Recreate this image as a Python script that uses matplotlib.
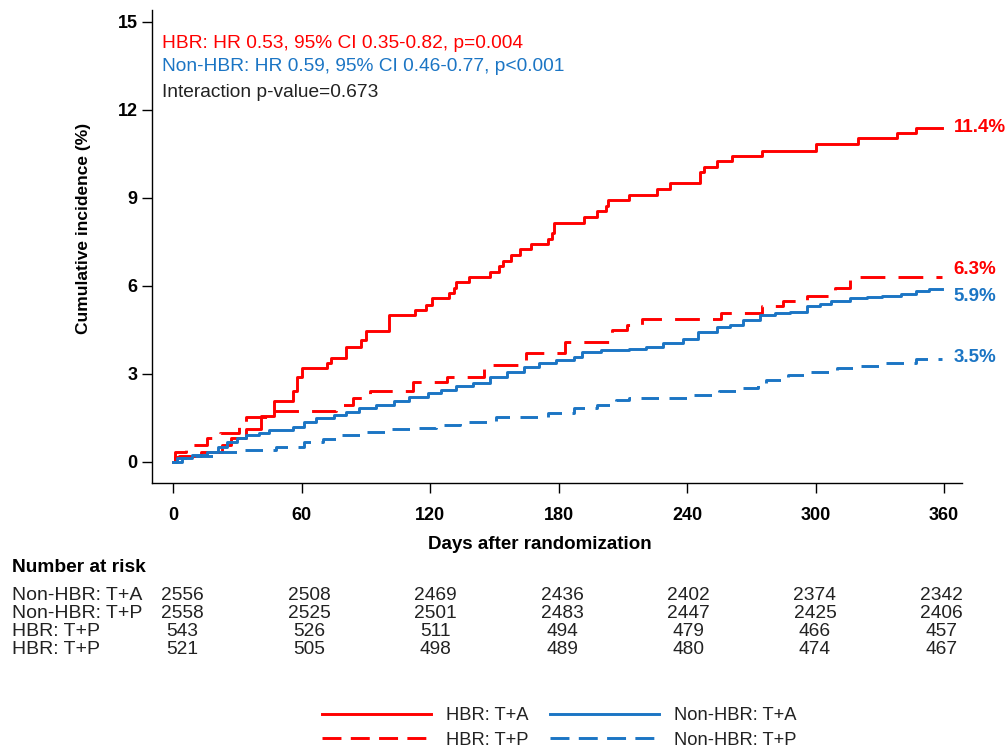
import matplotlib
matplotlib.use('Agg')
import matplotlib.pyplot as plt
from matplotlib.lines import Line2D
import numpy as np

plt.rcParams['font.family'] = ['Liberation Sans', 'DejaVu Sans']

RED = '#FF0000'
BLUE = '#1B75C4'
INK = '#222222'

# Kaplan-Meier style cumulative incidence (%), step changes by day
hbr_ta_days = [0, 1, 3, 13, 23, 27, 34, 41, 47, 56, 58, 60, 72, 74, 81, 88, 90, 101, 113, 118,
               121, 129, 131, 132, 138, 148, 152, 154, 158, 162, 167, 175, 177, 178, 192, 198,
               202, 203, 213, 226, 232, 246, 248, 254, 261, 275, 300, 320, 338, 347, 359]
hbr_ta_inc = [0, 0.18, 0.2, 0.35, 0.58, 0.81, 1.12, 1.55, 2.06, 2.4, 2.9, 3.2, 3.37, 3.55, 3.9,
              4.16, 4.47, 5.0, 5.18, 5.35, 5.6, 5.76, 5.93, 6.14, 6.31, 6.48, 6.68, 6.85, 7.06,
              7.26, 7.43, 7.6, 7.8, 8.16, 8.36, 8.56, 8.73, 8.93, 9.1, 9.3, 9.5, 9.9, 10.07,
              10.26, 10.43, 10.6, 10.83, 11.04, 11.23, 11.4, 11.4]

hbr_tp_days = [0, 1, 6, 16, 22, 31, 34, 45, 76, 84, 92, 112, 128, 145, 165, 183, 205, 212, 219,
               256, 275, 285, 296, 309, 316, 359]
hbr_tp_inc = [0, 0.35, 0.58, 0.81, 0.98, 1.34, 1.54, 1.75, 1.94, 2.17, 2.4, 2.72, 2.91, 3.3,
              3.7, 4.1, 4.5, 4.67, 4.87, 5.07, 5.3, 5.47, 5.66, 5.93, 6.3, 6.3]

nonhbr_ta_days = [0, 4, 9, 16, 21, 25, 30, 34, 40, 45, 56, 61, 67, 75, 81, 87, 95, 103, 110, 119,
                  125, 132, 140, 148, 156, 164, 171, 179, 187, 191, 200, 213, 221, 229, 238, 245,
                  254, 260, 266, 274, 281, 288, 296, 302, 307, 316, 324, 331, 340, 347, 353, 359]
nonhbr_ta_inc = [0, 0.12, 0.24, 0.35, 0.5, 0.69, 0.8, 0.92, 1.0, 1.09, 1.2, 1.37, 1.48, 1.6,
                 1.7, 1.83, 1.95, 2.06, 2.2, 2.34, 2.45, 2.57, 2.69, 2.9, 3.08, 3.22, 3.37, 3.48,
                 3.59, 3.75, 3.8, 3.85, 3.93, 4.05, 4.2, 4.44, 4.61, 4.67, 4.84, 5.0, 5.06, 5.12,
                 5.3, 5.38, 5.47, 5.59, 5.62, 5.64, 5.74, 5.83, 5.88, 5.9]

nonhbr_tp_days = [0, 2, 9, 20, 32, 48, 61, 70, 78, 90, 101, 112, 123, 134, 151, 175, 187, 198,
                  207, 213, 243, 255, 266, 273, 277, 287, 296, 310, 319, 332, 347, 359]
nonhbr_tp_inc = [0, 0.13, 0.2, 0.35, 0.41, 0.52, 0.69, 0.78, 0.92, 1.03, 1.12, 1.17, 1.26, 1.37,
                 1.53, 1.67, 1.84, 1.94, 2.1, 2.19, 2.28, 2.4, 2.52, 2.7, 2.8, 2.97, 3.08, 3.2,
                 3.28, 3.37, 3.5, 3.5]

# end-of-follow-up labels: value, colour, label height
end_values = [11.4, 6.3, 5.9, 3.5]
end_colors = [RED, RED, BLUE, BLUE]
end_label_y = [11.4, 6.55, 5.63, 3.55]

# number at risk
risk_days = [0, 60, 120, 180, 240, 300, 360]
risk_rows = ['Non-HBR: T+A', 'Non-HBR: T+P', 'HBR: T+P', 'HBR: T+P']
risk_counts = [
    [2556, 2508, 2469, 2436, 2402, 2374, 2342],
    [2558, 2525, 2501, 2483, 2447, 2425, 2406],
    [543, 526, 511, 494, 479, 466, 457],
    [521, 505, 498, 489, 480, 474, 467],
]

fig = plt.figure(figsize=(10.08, 7.55), dpi=100)
ax = fig.add_axes([0.1508, 0.3603, 0.8036, 0.6265])

lw = 2.1
red_dash = (0, (8.5, 4.5))
blue_dash = (0, (6, 3.6))
ax.plot(hbr_ta_days, hbr_ta_inc, drawstyle='steps-post', color=RED, lw=lw)
ax.plot(hbr_tp_days, hbr_tp_inc, drawstyle='steps-post', color=RED, lw=lw, linestyle=red_dash)
ax.plot(nonhbr_ta_days, nonhbr_ta_inc, drawstyle='steps-post', color=BLUE, lw=lw)
ax.plot(nonhbr_tp_days, nonhbr_tp_inc, drawstyle='steps-post', color=BLUE, lw=lw,
        linestyle=blue_dash)

for v, c, ly in zip(end_values, end_colors, end_label_y):
    ax.text(364.5, ly, f'{v:.1f}%', color=c, fontsize=13.5, fontweight='bold',
            va='center', ha='left', clip_on=False)

ax.set_xlim(-9.8, 368.4)
ax.set_ylim(-0.72, 15.41)
ax.set_xticks(risk_days)
ax.set_yticks([0, 3, 6, 9, 12, 15])
ax.spines['top'].set_visible(False)
ax.spines['right'].set_visible(False)
for s in ('left', 'bottom'):
    ax.spines[s].set_linewidth(1.0)
ax.tick_params(direction='out', length=7.5, width=1.0, labelsize=13)
ax.tick_params(axis='y', pad=3)
ax.tick_params(axis='x', pad=10)
for lab in ax.get_xticklabels() + ax.get_yticklabels():
    lab.set_fontweight('bold')
ax.set_xlabel('Days after randomization', fontsize=13.5, fontweight='bold')
ax.set_ylabel('Cumulative incidence (%)', fontsize=12.5, fontweight='bold')
ax.xaxis.set_label_coords(0.479, -0.112)
ax.yaxis.set_label_coords(-0.0753, 0.539)

ax.text(0.0125, 0.930, 'HBR: HR 0.53, 95% CI 0.35-0.82, p=0.004', transform=ax.transAxes,
        color=RED, fontsize=13.75, va='center')
ax.text(0.0125, 0.880, 'Non-HBR: HR 0.59, 95% CI 0.46-0.77, p<0.001', transform=ax.transAxes,
        color=BLUE, fontsize=13.75, va='center')
ax.text(0.0125, 0.825, 'Interaction p-value=0.673', transform=ax.transAxes,
        color=INK, fontsize=13.75, va='center')

# number-at-risk table under the axis
fig.text(12 / 1008, 1 - 568 / 755, 'Number at risk', fontsize=13.75, fontweight='bold',
         va='center', ha='left')
row_y = [595, 613, 631, 649]
for name, counts, py in zip(risk_rows, risk_counts, row_y):
    yf = 1 - py / 755
    fig.text(12 / 1008, yf, name, fontsize=14, va='center', ha='left', color=INK)
    for d, n in zip(risk_days, counts):
        xd = ax.transData.transform((d + 4.5 - d * 0.016, 0))[0]
        xf = fig.transFigure.inverted().transform((xd, 0))[0]
        fig.text(xf, yf, str(n), fontsize=13.75, va='center', ha='center', color=INK)

handles = [
    Line2D([], [], color=RED, lw=lw),
    Line2D([], [], color=RED, lw=lw, linestyle=(0, (6.5, 3.2))),
    Line2D([], [], color=BLUE, lw=lw),
    Line2D([], [], color=BLUE, lw=lw, linestyle=(0, (6.5, 3.2))),
]
labels = ['HBR: T+A', 'HBR: T+P', 'Non-HBR: T+A', 'Non-HBR: T+P']
leg = fig.legend(handles, labels, ncol=2, loc='center', bbox_to_anchor=(0.5546, 0.0358),
                 frameon=False, fontsize=13.2, handlelength=5.95, handletextpad=0.82,
                 columnspacing=1.15, labelspacing=0.4)
for t in leg.get_texts():
    t.set_color(INK)

fig.savefig('out.png', dpi=100)
